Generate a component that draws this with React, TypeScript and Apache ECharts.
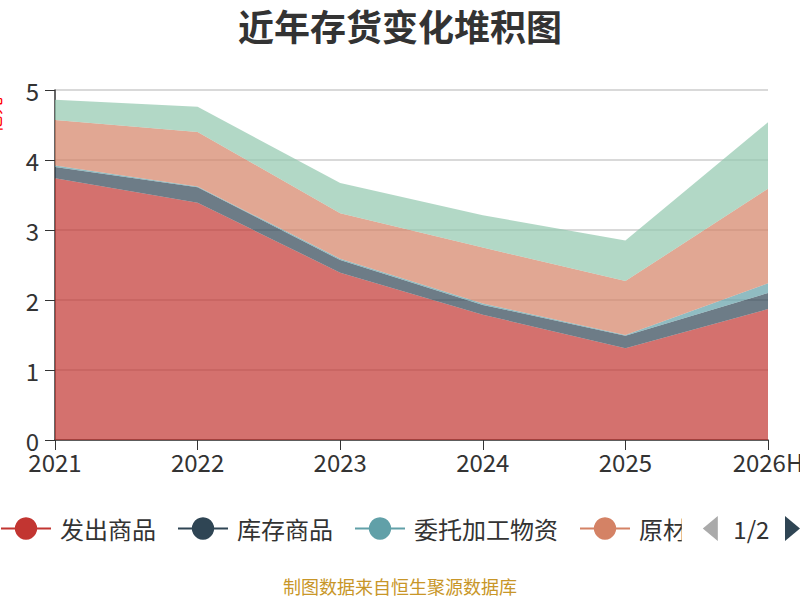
import React, { useEffect, useRef } from "react";
import * as echarts from "echarts";

const categories = ["2021", "2022", "2023", "2024", "2025", "2026H"];
const seriesNames = ["发出商品", "库存商品", "委托加工物资", "原材料", "在产品"];
const shipped = [3.74, 3.39, 2.39, 1.79, 1.31, 1.87];
const stock = [0.16, 0.22, 0.18, 0.14, 0.18, 0.23];
const consigned = [0.02, 0.01, 0.02, 0.02, 0.01, 0.14];
const rawMaterial = [0.65, 0.78, 0.65, 0.8, 0.77, 1.35];
const inProcess = [0.29, 0.36, 0.43, 0.46, 0.58, 0.95];
const colors = ["#c23531", "#2f4554", "#61a0a8", "#d48265", "#91c7ae"];
const yTicks = [0, 1, 2, 3, 4, 5];

export default function App() {
  const ref = useRef<HTMLDivElement>(null);
  useEffect(() => {
    document.body.style.margin = "0";
    const chart = echarts.init(ref.current!, undefined, { renderer: "svg" });
    const values = [shipped, stock, consigned, rawMaterial, inProcess];
    chart.setOption({
      animation: false,
      color: colors,
      textStyle: { fontFamily: "'Noto Sans CJK SC', 'Noto Sans', sans-serif" },
      title: {
        text: "近年存货变化堆积图",
        left: "center",
        top: 2,
        textStyle: { fontSize: 36, fontWeight: "bold", color: "#333" },
      },
      grid: { left: 55, right: 32, top: 90, bottom: 160, outerBoundsMode: "none" },
      legend: {
        type: "scroll",
        left: 0,
        right: 0,
        top: 516,
        padding: 0,
        itemWidth: 50,
        itemHeight: 28,
        itemGap: 21,
        textStyle: { fontSize: 24, color: "#333", padding: [0, 0, 0, 4] },
        lineStyle: { width: 2, opacity: 1 },
        pageIconSize: [15, 30],
        pageIconColor: "#2f4554",
        pageIconInactiveColor: "#aaa",
        pageTextStyle: { fontSize: 24, color: "#333" },
        data: seriesNames,
      },
      xAxis: {
        type: "category",
        boundaryGap: false,
        data: categories,
        axisLine: { lineStyle: { color: "#333", width: 1.5 } },
        axisTick: { length: 10, lineStyle: { color: "#333" } },
        axisLabel: { fontSize: 24, color: "#333", margin: 9 },
      },
      yAxis: {
        type: "value",
        min: yTicks[0],
        max: yTicks[yTicks.length - 1],
        interval: 1,
        axisLine: { show: true, lineStyle: { color: "#333", width: 1.5 } },
        axisTick: { show: true, length: 10, lineStyle: { color: "#333" } },
        axisLabel: { fontSize: 24, color: "#333", margin: 16 },
        splitLine: { lineStyle: { color: "#ccc", width: 1.5 } },
      },
      graphic: [
        {
          type: "text",
          x: -7,
          y: 115,
          rotation: Math.PI / 2,
          style: {
            text: "亿元",
            fill: "#ff0000",
            font: "18px 'Noto Sans CJK SC'",
            textAlign: "center",
            textVerticalAlign: "middle",
          },
        },
        {
          type: "text",
          left: "center",
          top: 577,
          style: {
            text: "制图数据来自恒生聚源数据库",
            fill: "#c89628",
            font: "18px 'Noto Sans CJK SC'",
          },
        },
      ],
      series: seriesNames.map((name, i) => ({
        name,
        type: "line",
        stack: "total",
        data: values[i],
        symbol: "circle",
        showSymbol: false,
        lineStyle: { width: 0, opacity: 0 },
        areaStyle: { opacity: 0.7 },
      })),
    });
    return () => chart.dispose();
  }, []);
  return <div ref={ref} style={{ width: 800, height: 600 }} />;
}
